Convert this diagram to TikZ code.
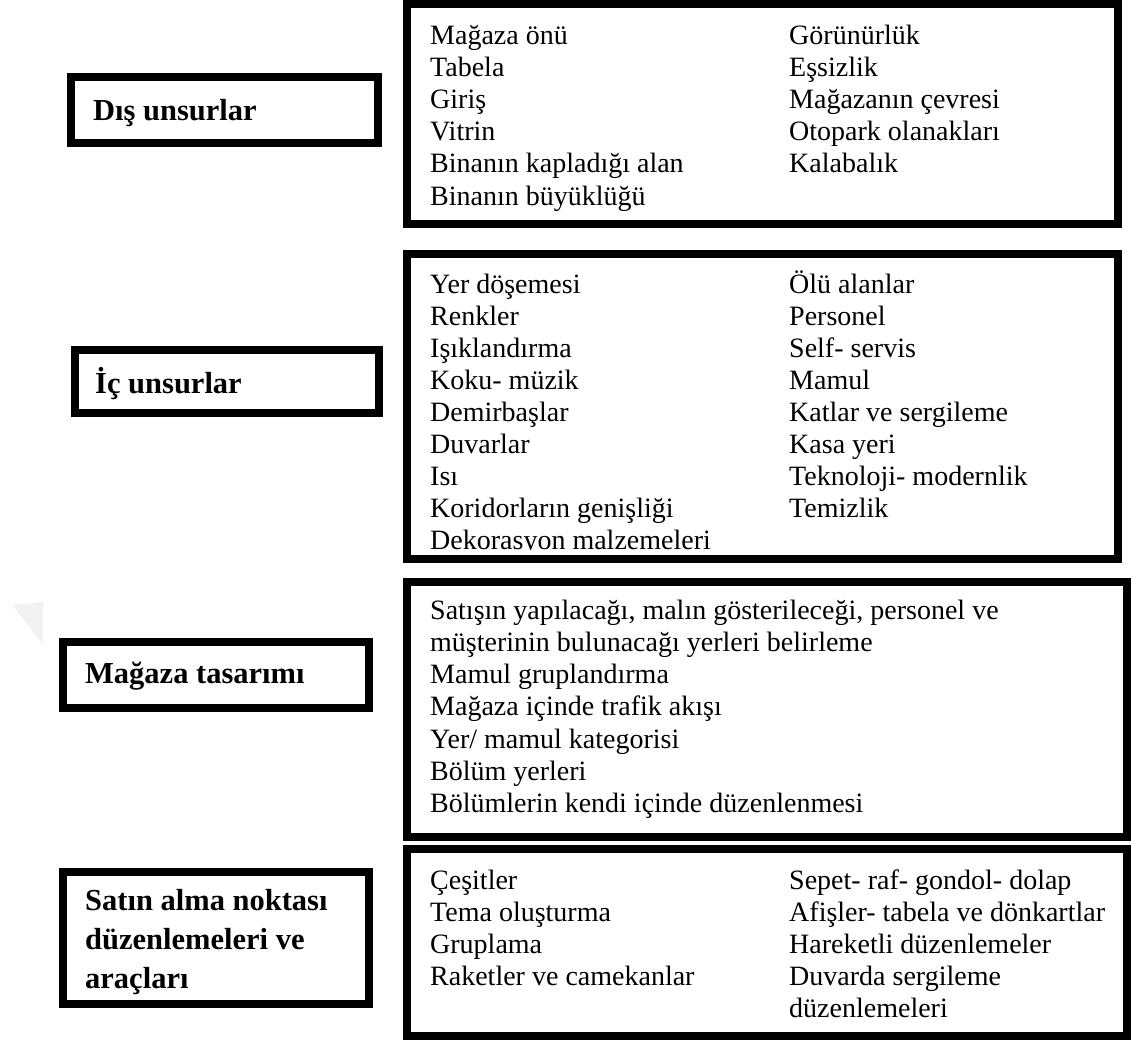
\documentclass[tikz,border=0pt]{standalone}
\usepackage{fontspec}
\setmainfont{Liberation Serif}
\begin{document}
\begin{tikzpicture}[x=1pt,y=-1pt,
  frame/.style={draw=black, line width=8pt, fill=white},
  item/.style={anchor=base west, inner sep=0pt, font=\fontsize{28}{32}\selectfont},
  head/.style={anchor=base west, inner sep=0pt, font=\fontsize{30.5}{39}\selectfont\bfseries}]
\useasboundingbox[fill=white] (0,0) rectangle (1131,1042);

% faint watermark triangle
\fill[gray!10] (12,605) -- (43,602) -- (43,644) -- cycle;

% left title boxes
\draw[frame] (71,77) rectangle (378,143);
\draw[frame] (75,350) rectangle (379,413);
\draw[frame] (63,642) rectangle (369,708);
\draw[frame] (63,872) rectangle (369,1004);

\node[head] (t1) at (93,120) {Dış unsurlar};
\node[head] (t2) at (95,393) {İç unsurlar};
\node[head] (t3) at (85,683) {Mağaza tasarımı};
\node[head] (t4a) at (85,910) {Satın alma noktası};
\node[head] (t4b) at (85,949) {düzenlemeleri ve};
\node[head] (t4c) at (85,988) {araçları};

% right content boxes
\draw[frame] (407,4) rectangle (1118,224);
\draw[frame] (407,254) rectangle (1118,559);
\draw[frame] (407,582) rectangle (1127,837);
\draw[frame] (407,849) rectangle (1127,1036);

% box 1
\foreach \t [count=\i] in {Mağaza önü,Tabela,Giriş,Vitrin,Binanın kapladığı alan,Binanın büyüklüğü}
  \node[item] (a\i) at (430,{44+(\i-1)*32.2}) {\t};
\foreach \t [count=\i] in {Görünürlük,Eşsizlik,Mağazanın çevresi,Otopark olanakları,Kalabalık}
  \node[item] (b\i) at (789,{44+(\i-1)*32.2}) {\t};

% box 2
\begin{scope}
\clip (411,258) rectangle (1114,549);
\foreach \t [count=\i] in {Yer döşemesi,Renkler,Işıklandırma,Koku- müzik,Demirbaşlar,Duvarlar,Isı,Koridorların genişliği,Dekorasyon malzemeleri}
  \node[item] (c\i) at (430,{293+(\i-1)*32.1}) {\t};
\foreach \t [count=\i] in {Ölü alanlar,Personel,Self- servis,Mamul,Katlar ve sergileme,Kasa yeri,Teknoloji- modernlik,Temizlik}
  \node[item] (d\i) at (789,{293+(\i-1)*32.1}) {\t};
\end{scope}

% box 3
\foreach \t [count=\i] in {{Satışın yapılacağı, malın gösterileceği, personel ve},müşterinin bulunacağı yerleri belirleme,Mamul gruplandırma,Mağaza içinde trafik akışı,Yer/ mamul kategorisi,Bölüm yerleri,Bölümlerin kendi içinde düzenlenmesi}
  \node[item] (e\i) at (430,{619+(\i-1)*32.3}) {\t};

% box 4
\foreach \t [count=\i] in {Çeşitler,Tema oluşturma,Gruplama,Raketler ve camekanlar}
  \node[item] (f\i) at (430,{889+(\i-1)*32.2}) {\t};
\foreach \t [count=\i] in {Sepet- raf- gondol- dolap,Afişler- tabela ve dönkartlar,Hareketli düzenlemeler,Duvarda sergileme,düzenlemeleri}
  \node[item] (g\i) at (789,{889+(\i-1)*32.2}) {\t};
\end{tikzpicture}
\end{document}
